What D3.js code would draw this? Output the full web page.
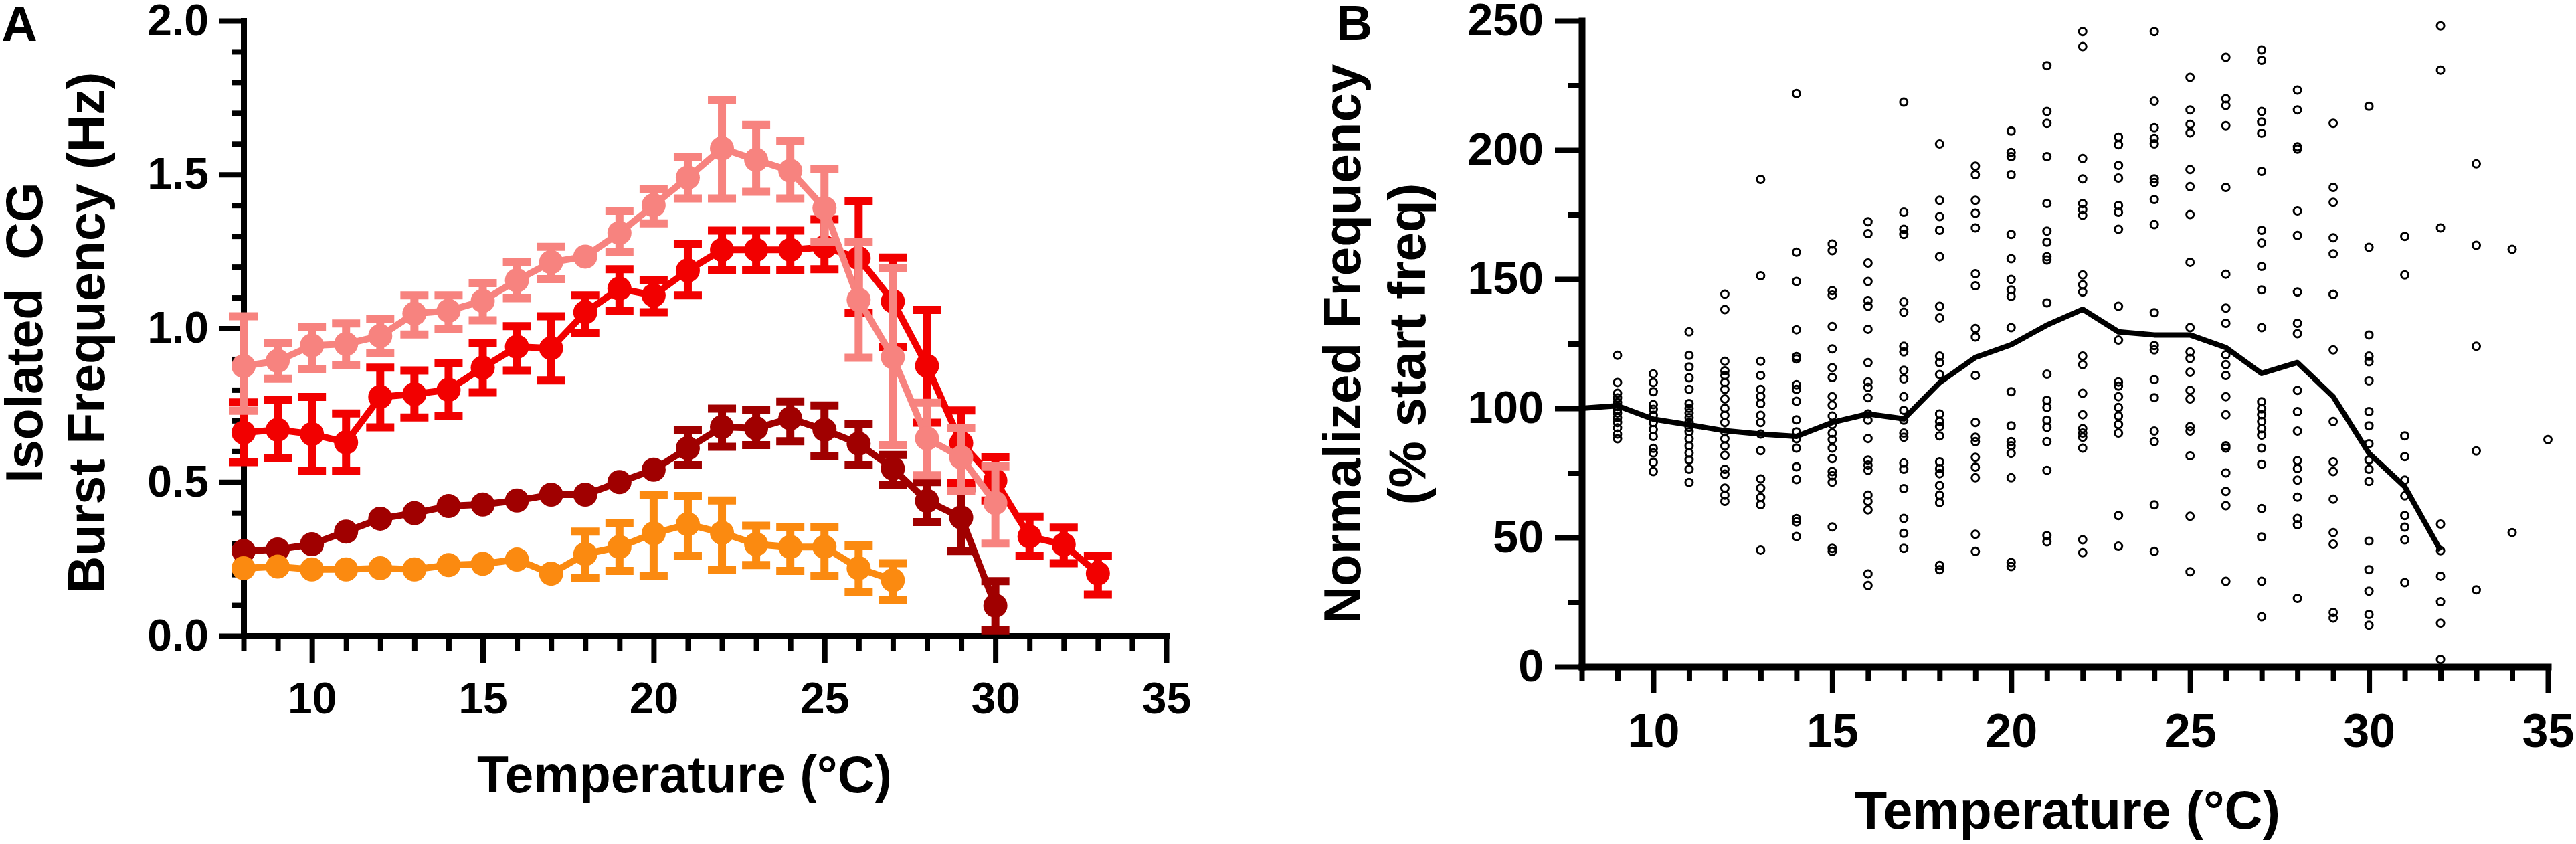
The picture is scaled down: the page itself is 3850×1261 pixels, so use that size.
<!DOCTYPE html>
<html>
<head>
<meta charset="utf-8">
<script src="https://cdn.jsdelivr.net/npm/d3@7"></script>
<style>
  body { margin: 0; background: #fff; }
  svg { display: block; background: #fff; }
  text { font-family: "Liberation Sans", Arial, sans-serif; font-weight: bold; fill: #000; }
</style>
</head>
<body>
<svg id="chart" width="3850" height="1261"></svg>
<script>
// ---------------- Panel A data ----------------
const pinkTemps = [8,9,10,11,12,13,14,15,16,17,18,19,20,21,22,23,24,25,26,27,28,29,30];
const pinkMean  = [0.877,0.894,0.944,0.949,0.975,1.048,1.057,1.089,1.156,1.215,1.233,1.31,1.40,1.49,1.585,1.548,1.512,1.391,1.093,0.906,0.642,0.580,0.432];
const pinkHigh  = [1.039,0.953,1.003,1.016,1.03,1.107,1.107,1.147,1.215,1.265,null,1.382,1.454,1.557,1.742,1.661,1.608,1.517,1.282,1.197,0.758,0.675,0.551];
const pinkLow   = [0.732,0.836,0.868,0.881,0.92,0.98,0.998,1.026,1.098,1.16,null,1.247,1.341,1.422,1.422,1.444,1.422,1.282,0.904,0.620,0.522,0.472,0.300];

const redTemps = [8,9,10,11,12,13,14,15,16,17,18,19,20,21,22,23,24,25,26,27,28,29,30,31,32,33];
const redMean  = [0.661,0.670,0.656,0.629,0.777,0.786,0.80,0.872,0.94,0.935,1.052,1.129,1.107,1.188,1.255,1.255,1.255,1.264,1.228,1.088,0.878,0.627,0.505,0.323,0.297,0.203];
const redHigh  = [0.759,0.768,0.777,0.723,0.872,0.863,0.886,0.953,1.007,1.039,1.107,1.192,1.156,1.273,1.318,1.318,1.318,1.355,1.414,1.23,1.06,0.733,0.581,0.388,0.352,0.259];
const redLow   = [0.565,0.579,0.537,0.537,0.678,0.71,0.714,0.791,0.863,0.831,0.985,1.057,1.052,1.107,1.188,1.188,1.188,1.192,1.049,0.94,0.693,0.497,0.44,0.261,0.236,0.134];

const darkTemps = [8,9,10,11,12,13,14,15,16,17,18,19,20,21,22,23,24,25,26,27,28,29,30];
const darkMean  = [0.276,0.281,0.298,0.339,0.381,0.399,0.422,0.427,0.44,0.459,0.459,0.50,0.54,0.61,0.679,0.675,0.707,0.670,0.625,0.544,0.439,0.385,0.098];
const darkHigh  = [null,null,null,null,null,null,null,null,null,null,null,null,null,0.670,0.739,0.735,0.762,0.749,0.688,0.588,0.50,0.48,0.178];
const darkLow   = [null,null,null,null,null,null,null,null,null,null,null,null,null,0.555,0.615,0.62,0.633,0.583,0.555,0.49,0.37,0.276,0.018];

const orangeTemps = [8,9,10,11,12,13,14,15,16,17,18,19,20,21,22,23,24,25,26,27];
const orangeMean  = [0.22,0.225,0.216,0.216,0.22,0.216,0.23,0.234,0.248,0.202,0.266,0.289,0.333,0.363,0.335,0.298,0.289,0.289,0.22,0.181];
const orangeHigh  = [null,null,null,null,null,null,null,null,null,null,0.339,0.367,0.459,0.455,0.44,0.358,0.353,0.353,0.294,0.236];
const orangeLow   = [null,null,null,null,null,null,null,null,null,null,0.188,0.211,0.194,0.261,0.215,0.23,0.211,0.194,0.142,0.116];

const aYMajorTicks = [0, 0.5, 1.0, 1.5, 2.0];
const aYMinorTicks = [0.1,0.2,0.3,0.4,0.6,0.7,0.8,0.9,1.1,1.2,1.3,1.4,1.6,1.7,1.8,1.9];
const xMajorTicks  = [10, 15, 20, 25, 30, 35];
const xMinorTicks  = [8,9,11,12,13,14,16,17,18,19,21,22,23,24,26,27,28,29,31,32,33,34];

// ---------------- Panel B data ----------------
const bTemps = [9,10,11,12,13,14,15,16,17,18,19,20,21,22,23,24,25,26,27,28,29,30,31,32,33,34,35];
const bValues = [
  [120.5,110,105.8,104,102.2,100.7,99.5,98.2,96.4,94.5,92.4,90,88.2],
  [113.3,110,106.4,101.4,99.6,97.3,94.5,91.8,89.1,84.5,82.7,79.1,75.5],
  [129.6,120.5,116,111.8,107.3,101.8,100,98.2,96.4,94.5,92.7,90.9,88.2,85.4,82.7,80,76.4,71.3],
  [144.2,138.2,118.2,114.5,112.7,110,107.3,103.6,100,97.3,94.5,90.9,88.2,85.4,81.8,76.4,74.5,69.1,66.4,64],
  [188.6,151.3,118.2,112.7,107.3,104.6,101.8,97.3,94.5,90,83.6,72.7,69.1,65.5,62.7,45.1],
  [221.8,160.4,149.1,130.4,120,119.1,109.1,107.3,102.7,95.5,90.9,88.2,84.6,77.3,72.4,57.3,56,50.4],
  [163.6,161,145.5,143.8,131.7,123,115.7,111.9,104.5,101.2,97,93.7,90.4,87.9,84.6,80.5,75.5,73.9,71.4,54.1,45.8,44.6],
  [172.2,167.6,156.2,149.1,141.7,139.5,130.6,117.7,110.2,108.1,104.1,97.8,95.4,88.3,80,78,76,66.4,64,60.7,35.9,31.4],
  [218.5,175.9,169.3,167.3,141.2,137.2,124,121.8,114.7,111.4,104.5,99.2,95.4,90.4,88.8,78.8,76.4,68.9,57.4,51.6,45.8],
  [202.3,180.5,174.2,168.9,158.7,139.5,135,120.2,117.7,113.1,97.8,94.9,92.9,89.3,79.3,76.7,74.7,70.1,66.4,63.5,39.2,37.5],
  [193.7,190.4,180.5,175.5,169.8,152.1,147.4,130.9,127.6,112.7,94.5,88.8,87.1,81,77.2,73.1,51.2,44.6],
  [207.3,199,197.4,190.4,167.3,157.9,149.9,145.8,143.3,131.2,106.4,93.2,87.1,85.5,82.6,73.1,40.3,38.7],
  [232.6,214.9,210.3,197.4,179.3,168.6,164.3,158.7,157.4,140.8,113.2,103.1,100.3,95.4,92.6,87.1,76,50.7,48.3],
  [245.8,240,196.7,188.8,179.2,176.9,174.7,151.6,147.8,145,120.2,116.9,105.8,97.5,92.1,90.4,88.8,84.6,49.1,44.1],
  [205,202,194,189.1,178.5,175.9,169.3,139.5,126.4,110.2,108.6,104.5,100.3,97,93.7,90.4,58.5,46.6],
  [245.8,218.9,208.6,204.5,202.3,188.8,187.4,180.8,171.1,137,124.3,122.6,111.1,104.1,91.2,87.1,62.6,44.6],
  [228.1,215.5,209.9,206.6,192.4,185.8,175,156.5,131.2,121.8,119.3,114,106.9,103.6,92.9,91.2,81.6,58.2,36.7],
  [235.9,219.8,217.2,209.4,185.5,151.9,138.8,132.9,120.7,116.9,112.7,104.5,97.5,85.5,84.6,75,67.8,62.3,33],
  [238.7,234.7,214.9,210.8,206.5,191.7,168.9,164,154.9,145.8,131.2,102.5,99.8,97.5,94.9,92.1,89.6,84.6,78.3,61.2,50.2,33,19.3],
  [223.2,215.5,201.2,200.3,176.4,166.9,145,132.9,128.9,106.9,98.7,91.2,79.7,76.7,72.2,65.6,57.4,54.9,26.4],
  [210.3,185.5,179.7,166,159.8,144.1,144.1,122.6,94.9,79.3,75.5,64.8,51.9,47.4,21,18.8],
  [216.9,162.3,128.4,120.2,118,110.6,98.7,93.2,86.3,80,76.4,71.7,48.6,37.5,29.2,20.2,16],
  [166.5,151.6,89.3,81.3,72.2,66.1,58.5,54,49.1,32.5],
  [248,230.9,169.8,55.2,44.9,35,25.1,16.8,2.8],
  [194.6,163.1,124,83.5,29.7],
  [161.5,51.9],
  [87.9]
];
const bMeanTemps = [8,9,10,11,12,13,14,15,16,17,18,19,20,21,22,23,24,25,26,27,28,29,30,31,32];
const bMean      = [100,101,95.8,93.6,91.3,90,89.1,94.5,97.8,95.9,109.9,119.7,124.6,132.2,138.3,129.6,128.4,128.4,123.5,113.5,117.7,104.5,82.6,69.7,45];
const bYMajorTicks = [0, 50, 100, 150, 200, 250];
const bYMinorTicks = [25, 75, 125, 175, 225];

// ---------------- Drawing ----------------
const svg = d3.select("#chart");
const FONT = '"Liberation Sans", Arial, sans-serif';

function styleAxis(g, fontSize, tickW, domainW, keepDomain) {
  g.attr("font-family", FONT).attr("font-size", fontSize).attr("font-weight", "bold");
  g.selectAll(".tick line").attr("stroke", "#000").attr("stroke-width", tickW);
  g.selectAll(".tick text").attr("fill", "#000");
  if (keepDomain) {
    g.select(".domain").attr("stroke", "#000").attr("stroke-width", domainW).attr("stroke-linecap", "square");
  } else {
    g.select(".domain").remove();
  }
}

function drawAxes(x, y, o) {
  const x0 = x.range()[0], y0 = y.range()[0];
  svg.append("g").attr("transform", `translate(${x0},0)`)
    .call(d3.axisLeft(y).tickValues(o.yMinor).tickSize(o.yMinorLen).tickFormat("").tickSizeOuter(0))
    .call(g => styleAxis(g, o.yFont, o.tickW, o.domW, false));
  svg.append("g").attr("transform", `translate(0,${y0})`)
    .call(d3.axisBottom(x).tickValues(xMinorTicks).tickSize(o.xMinorLen).tickFormat("").tickSizeOuter(0))
    .call(g => styleAxis(g, o.xFont, o.tickW, o.domW, false));
  svg.append("g").attr("transform", `translate(0,${y0})`)
    .call(d3.axisBottom(x).tickValues(xMajorTicks).tickSize(o.xMajorLen).tickPadding(o.xPad).tickFormat(d3.format("d")).tickSizeOuter(0))
    .call(g => styleAxis(g, o.xFont, o.tickW, o.domW, true));
  svg.append("g").attr("transform", `translate(${x0},0)`)
    .call(d3.axisLeft(y).tickValues(o.yMajor).tickSize(o.yMajorLen).tickPadding(o.yPad).tickFormat(o.yFmt).tickSizeOuter(0))
    .call(g => styleAxis(g, o.yFont, o.tickW, o.domW, true));
}

// ----- Panel A -----
const xA = d3.scaleLinear().domain([8, 35]).range([364, 1743]);
const yA = d3.scaleLinear().domain([0, 2]).range([950, 31]);

drawAxes(xA, yA, {
  yMajor: aYMajorTicks, yMinor: aYMinorTicks, yFmt: d3.format(".1f"),
  yMajorLen: 36, yMinorLen: 18, yPad: 16, yFont: 66,
  xMajorLen: 40, xMinorLen: 22, xPad: 29, xFont: 66,
  tickW: 8, domW: 9
});

const seriesA = [
  {temps: darkTemps,   mean: darkMean,   hi: darkHigh,   lo: darkLow,   color: "#a00000"},
  {temps: orangeTemps, mean: orangeMean, hi: orangeHigh, lo: orangeLow, color: "#fb8a10"},
  {temps: redTemps,    mean: redMean,    hi: redHigh,    lo: redLow,    color: "#f20000"},
  {temps: pinkTemps,   mean: pinkMean,   hi: pinkHigh,   lo: pinkLow,   color: "#f7837f"}
];

const lineA = d3.line().x(d => xA(d.t)).y(d => yA(d.m));
seriesA.forEach(s => {
  const pts = s.temps.map((t, i) => ({t, m: s.mean[i], hi: s.hi[i], lo: s.lo[i]}));
  const g = svg.append("g");
  g.append("path").datum(pts).attr("d", lineA)
    .attr("fill", "none").attr("stroke", s.color).attr("stroke-width", 10).attr("stroke-linejoin", "round");
  const eb = pts.filter(p => p.hi !== null && p.lo !== null);
  g.selectAll(".stem").data(eb).join("line")
    .attr("x1", p => xA(p.t)).attr("x2", p => xA(p.t))
    .attr("y1", p => yA(p.hi)).attr("y2", p => yA(p.lo))
    .attr("stroke", s.color).attr("stroke-width", 12);
  ["hi", "lo"].forEach(k => {
    g.selectAll(".cap" + k).data(eb).join("line")
      .attr("x1", p => xA(p.t) - 21).attr("x2", p => xA(p.t) + 21)
      .attr("y1", p => yA(p[k])).attr("y2", p => yA(p[k]))
      .attr("stroke", s.color).attr("stroke-width", 12);
  });
  g.selectAll("circle").data(pts).join("circle")
    .attr("cx", p => xA(p.t)).attr("cy", p => yA(p.m)).attr("r", 18)
    .attr("fill", s.color);
});

// ----- Panel B -----
const xB = d3.scaleLinear().domain([8, 35]).range([2364, 3808]);
const yB = d3.scaleLinear().domain([0, 250]).range([996, 31]);

drawAxes(xB, yB, {
  yMajor: bYMajorTicks, yMinor: bYMinorTicks, yFmt: d3.format("d"),
  yMajorLen: 40, yMinorLen: 20, yPad: 17, yFont: 68,
  xMajorLen: 40, xMinorLen: 21, xPad: 30, xFont: 70,
  tickW: 8, domW: 10
});

const scatter = [];
bTemps.forEach((t, i) => bValues[i].forEach(v => scatter.push({t, v})));
svg.append("g").selectAll("circle").data(scatter).join("circle")
  .attr("cx", d => xB(d.t)).attr("cy", d => yB(d.v)).attr("r", 5.5)
  .attr("fill", "none").attr("stroke", "#000").attr("stroke-width", 3);

svg.append("path")
  .datum(bMeanTemps.map((t, i) => ({t, m: bMean[i]})))
  .attr("d", d3.line().x(d => xB(d.t)).y(d => yB(d.m)))
  .attr("fill", "none").attr("stroke", "#000").attr("stroke-width", 8).attr("stroke-linejoin", "round");

// ----- Titles & labels -----
function addText(x, y, str, size, anchor, rotate) {
  const t = svg.append("text")
    .attr("x", x).attr("y", y)
    .attr("font-size", size).attr("font-family", FONT).attr("font-weight", "bold")
    .attr("text-anchor", anchor || "start")
    .style("white-space", "pre")
    .text(str);
  if (rotate) t.attr("transform", `rotate(-90,${x},${y})`);
  return t;
}

addText(2, 62, "A", 75, "start");
addText(1997, 60, "B", 75, "start");

addText(63, 497, "Isolated  CG", 77, "middle", true);
addText(156, 497, "Burst Frequency (Hz)", 77, "middle", true);
addText(1023, 1184, "Temperature (°C)", 77, "middle");

addText(2033, 514, "Normalized Frequency", 78, "middle", true);
addText(2130, 514, "(% start freq)", 78, "middle", true);
addText(3090, 1238, "Temperature (°C)", 79, "middle");
</script>
</body>
</html>
